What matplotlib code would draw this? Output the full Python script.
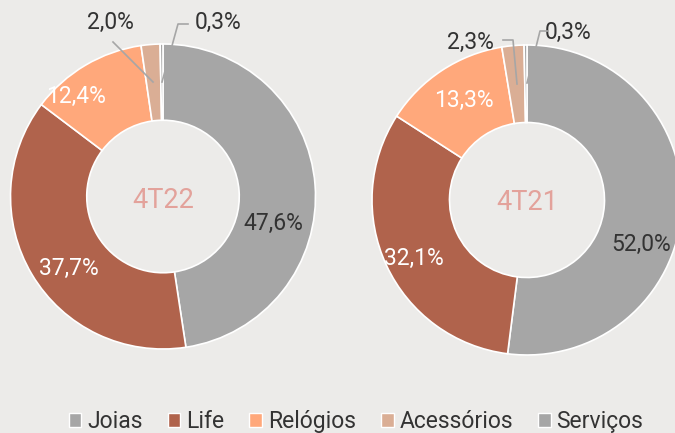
import matplotlib.pyplot as plt
from matplotlib.patches import Patch

plt.rcParams['font.family'] = ['Roboto', 'DejaVu Sans']

# Data
categories = ['Joias', 'Life', 'Relógios', 'Acessórios', 'Serviços']
share_4t22 = [47.6, 37.7, 12.4, 2.0, 0.3]
share_4t21 = [52.0, 32.1, 13.3, 2.3, 0.3]
colors = ['#A6A6A6', '#B0634C', '#FFA87B', '#DAAE95', '#A6A6A6']
bg = '#ECEBE9'
H = 433

fig = plt.figure(figsize=(6.75, 4.33), dpi=100, facecolor=bg)
ax = fig.add_axes([0, 0, 1, 1])
ax.set_xlim(0, 675)
ax.set_ylim(0, H)
ax.set_aspect('equal')
ax.axis('off')


def donut(values, cx, cy, r, title, title_y, label_pos, label_colors):
    ax.pie(values, colors=colors, startangle=90, counterclock=False,
           center=(cx, H - cy), radius=r, frame=True,
           wedgeprops=dict(width=r * 0.5, edgecolor='white', linewidth=1.2))
    ax.text(cx, H - title_y, title, color='#E3A29B', fontsize=19.5,
            ha='center', va='center')
    for v, (px, py), c in zip(values, label_pos, label_colors):
        ax.text(px, H - py, f'{v:.1f}%'.replace('.', ','), color=c,
                fontsize=16.5, ha='center', va='center')


def leader(points):
    xs = [p[0] for p in points]
    ys = [H - p[1] for p in points]
    ax.plot(xs, ys, color='#A6A6A6', linewidth=1.2, zorder=3)


donut(share_4t22, 163, 196.5, 152.5, '4T22', 200,
      [(273, 223), (69, 268), (76, 96), (110, 22), (218, 22)],
      ['#333333', 'white', 'white', '#333333', '#333333'])
donut(share_4t21, 527, 200, 155, '4T21', 202,
      [(641, 244), (414, 258), (464, 100), (470, 42), (568, 32)],
      ['#333333', 'white', 'white', '#333333', '#333333'])

leader([(113, 42), (153, 82)])
leader([(188, 24), (178, 24), (162, 82)])
leader([(503, 40), (513, 40), (517, 84)])
leader([(548, 31), (540, 31), (527, 83)])

ax.set_xlim(0, 675)
ax.set_ylim(0, H)

handles = [Patch(facecolor=c, edgecolor='white', linewidth=1) for c in colors]
fig.legend(handles, categories, loc='center', bbox_to_anchor=(356 / 675, 1 - 421.5 / H),
           ncol=5, frameon=False, fontsize=16.5, handlelength=0.55, handleheight=0.55,
           handletextpad=0.25, columnspacing=1.1, labelcolor='#333333')

fig.savefig('out.png', dpi=100, facecolor=bg)
